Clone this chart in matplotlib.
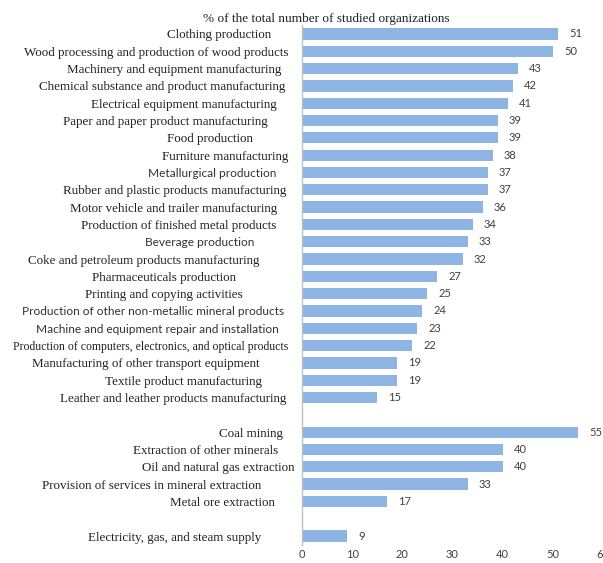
import matplotlib.pyplot as plt
import matplotlib.transforms as mtransforms

# Categories and values (% of studied organizations), top to bottom
manufacturing = ['Clothing production',
                 'Wood processing and production of wood products',
                 'Machinery and equipment manufacturing',
                 'Chemical substance and product manufacturing',
                 'Electrical equipment manufacturing',
                 'Paper and paper product manufacturing',
                 'Food production',
                 'Furniture manufacturing',
                 'Metallurgical production',
                 'Rubber and plastic products manufacturing',
                 'Motor vehicle and trailer manufacturing',
                 'Production of finished metal products',
                 'Beverage production',
                 'Coke and petroleum products manufacturing',
                 'Pharmaceuticals production',
                 'Printing and copying activities',
                 'Production of other non-metallic mineral products',
                 'Machine and equipment repair and installation',
                 'Production of computers, electronics, and optical products',
                 'Manufacturing of other transport equipment',
                 'Textile product manufacturing',
                 'Leather and leather products manufacturing']
manufacturing_vals = [51, 50, 43, 42, 41, 39, 39, 38, 37, 37, 36, 34, 33, 32,
                      27, 25, 24, 23, 22, 19, 19, 15]

mining = ['Coal mining',
          'Extraction of other minerals',
          'Oil and natural gas extraction',
          'Provision of services in mineral extraction',
          'Metal ore extraction']
mining_vals = [55, 40, 40, 33, 17]

energy = ['Electricity, gas, and steam supply']
energy_vals = [9]

title = '% of the total number of studied organizations'
xticks = [0, 10, 20, 30, 40, 50, 60]

# labels in the original are separate text boxes: right edge (px) of each one
label_right = [271, 288, 281, 285, 277, 268, 253, 288, 276, 286, 277, 276,
               254, 260, 236, 243, 284, 279, 288, 259, 262, 286,
               283, 278, 294, 261, 275,
               261]
sans_labels = ['Metallurgical production', 'Beverage production',
               'Production of other non-metallic mineral products',
               'Machine and equipment repair and installation']
small_labels = ['Production of computers, electronics, and optical products']

# build positions with one empty slot between groups
labels = []
vals = []
pos = []
slot = 0
for group, gvals in [(manufacturing, manufacturing_vals),
                     (mining, mining_vals),
                     (energy, energy_vals)]:
    for name, v in zip(group, gvals):
        labels.append(name)
        vals.append(v)
        pos.append(slot)
        slot += 1
    slot += 1

W, H = 603, 563
fig = plt.figure(figsize=(W / 100, H / 100), dpi=100)
ax = fig.add_axes([302 / W, 0.0325, 1 - 302 / W, 0.9225])

ax.barh(pos, vals, height=0.65, color='#8DB4E2')
for p, v in zip(pos, vals):
    ax.text(v + 2.2, p, str(v), va='center', ha='left', fontsize=8,
            color='#404040', family='Lato')

ax.set_ylim(slot - 1 - 0.5, -0.5)
ax.set_xlim(0, 60)
ax.set_yticks([])
ax.set_xticks(xticks)
ax.set_xticklabels([str(t) for t in xticks], fontsize=8, color='#404040',
                   family='Lato')
ax.tick_params(axis='both', length=0)
ax.tick_params(axis='x', pad=3)

# category labels
trans = mtransforms.blended_transform_factory(fig.transFigure, ax.transData)
for name, p, r in zip(labels, pos, label_right):
    if name in sans_labels:
        fam, fs, col = 'Lato', 8.6, '#333333'
    elif name in small_labels:
        fam, fs, col = 'Liberation Serif', 8.5, '#222222'
    else:
        fam, fs, col = 'Liberation Serif', 9.4, '#222222'
    ax.text(r / W, p, name, transform=trans, ha='right', va='center_baseline',
            family=fam, fontsize=fs, color=col)

for s in ['top', 'right', 'bottom']:
    ax.spines[s].set_visible(False)
ax.spines['left'].set_color('#BFBFBF')
ax.spines['left'].set_linewidth(1)

fig.text(326 / W, 1 - 19 / H, title, ha='center', va='center',
         family='Liberation Serif', fontsize=9.5, color='#222222')

fig.savefig('out.png', dpi=100)
